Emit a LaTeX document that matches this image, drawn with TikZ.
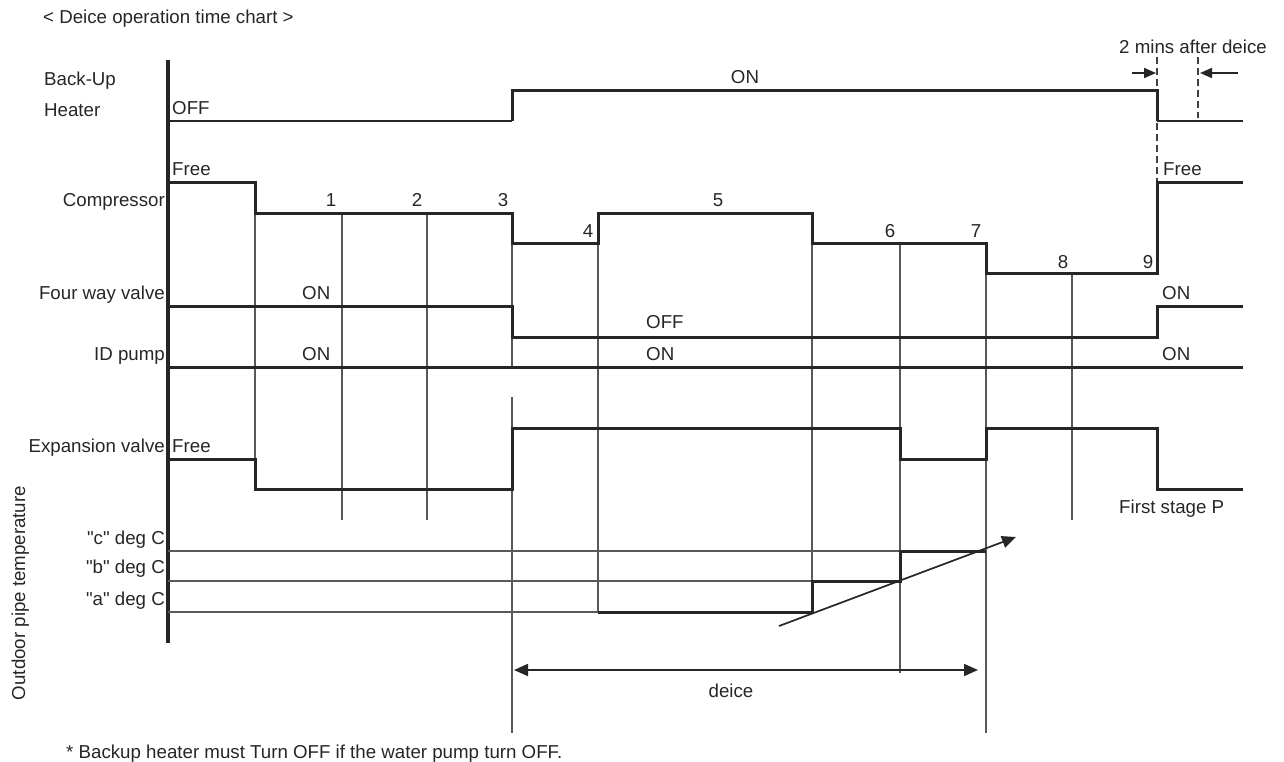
\documentclass[tikz,border=0pt]{standalone}
\usepackage{fontspec}
\setmainfont{Liberation Sans}[Ligatures=TeXOff]
\usetikzlibrary{arrows.meta}
\begin{document}
\begin{tikzpicture}[x=1pt,y=-1pt,
  lbl/.style={inner sep=0pt, font=\fontsize{18.7}{22}\selectfont, text=black!85},
  sig/.style={line width=3pt, draw=black!85, line join=miter},
  thinln/.style={line width=1.2pt, draw=black!65},
  dsh/.style={line width=1.2pt, draw=black!75, dash pattern=on 7pt off 4pt},
  dimarrow/.style={line width=1.7pt, draw=black!85, fill=black!85}
]
\useasboundingbox (0,0) rectangle (1284,762);

% axis
\coordinate (axtop) at (168,60);
\coordinate (axbot) at (168,643);
\draw[line width=3.4pt, draw=black!85] (axtop) -- (axbot);

% thin vertical guide lines
\draw[thinln] (255,213) -- (255,489);
\draw[thinln] (342,213) -- (342,520);
\draw[thinln] (427,213) -- (427,520);
\draw[thinln] (512,243) -- (512,367);
\draw[thinln] (512,397) -- (512,733);
\draw[thinln] (598,243) -- (598,612);
\draw[thinln] (812,243) -- (812,612);
\draw[thinln] (900,243) -- (900,673);
\draw[thinln] (986,273) -- (986,733);
\draw[thinln] (1072,273) -- (1072,520);

% temperature reference lines
\draw[thinln] (168,551) -- (986,551);
\draw[thinln] (168,581) -- (900,581);
\draw[thinln] (168,612) -- (812,612);

% dashed lines (2 mins after deice)
\draw[dsh] (1157,57) -- (1157,183);
\draw[dsh] (1198,57) -- (1198,118);

% signals
\draw[sig, line width=2.4pt] (168,121) -- (512,121);
\draw[sig] (512,121) -- (512,91) -- (1157,91) -- (1157,121);
\draw[sig, line width=2.4pt] (1157,121) -- (1243,121);

\draw[sig] (168,183) -- (255,183) -- (255,213) -- (512,213) -- (512,243) -- (598,243)
  -- (598,213) -- (812,213) -- (812,243) -- (986,243) -- (986,273) -- (1157,273)
  -- (1157,183) -- (1243,183);

\draw[sig] (168,306) -- (512,306) -- (512,337) -- (1157,337) -- (1157,306) -- (1243,306);

\draw[sig] (168,367) -- (1243,367);

\draw[sig] (168,459) -- (255,459) -- (255,489) -- (512,489) -- (512,428) -- (900,428)
  -- (900,459) -- (986,459) -- (986,428) -- (1157,428) -- (1157,489) -- (1243,489);

\draw[sig] (598,612) -- (812,612) -- (812,581) -- (900,581) -- (900,551) -- (986,551);

% rising temperature arrow
\coordinate (tA) at (779,626);
\coordinate (tB) at (1016,537);
\draw[dimarrow, -{Triangle[length=14pt,width=12pt]}] (tA) -- (tB);

% deice span arrow
\coordinate (dA) at (514,670);
\coordinate (dB) at (978,670);
\draw[dimarrow, {Triangle[length=14pt,width=12pt]}-{Triangle[length=14pt,width=12pt]}] (dA) -- (dB);

% 2 min arrows
\coordinate (m1a) at (1132,73);
\coordinate (m1b) at (1156,73);
\coordinate (m2a) at (1238,73);
\coordinate (m2b) at (1200,73);
\draw[dimarrow, -{Triangle[length=12pt,width=10pt]}] (m1a) -- (m1b);
\draw[dimarrow, -{Triangle[length=12pt,width=10pt]}] (m2a) -- (m2b);

% labels
\node[lbl, anchor=base west] (title) at (43,24) {< Deice operation time chart >};
\node[lbl, anchor=base west] (bu) at (44,86) {Back-Up};
\node[lbl, anchor=base west] (ht) at (44,117) {Heater};
\node[lbl, anchor=base west] (hoff) at (172,115) {OFF};
\node[lbl, anchor=base] (hon) at (745,84) {ON};
\node[lbl, anchor=base west] (twomin) at (1119,54) {2 mins after deice};

\node[lbl, anchor=base west] (cfree) at (172,176) {Free};
\node[lbl, anchor=base west] (cfree2) at (1163,176) {Free};
\node[lbl, anchor=base east] (comp) at (165,207) {Compressor};
\node[lbl, anchor=base] (n1) at (331,207) {1};
\node[lbl, anchor=base] (n2) at (417,207) {2};
\node[lbl, anchor=base] (n3) at (503,207) {3};
\node[lbl, anchor=base] (n4) at (588,237) {4};
\node[lbl, anchor=base] (n5) at (718,207) {5};
\node[lbl, anchor=base] (n6) at (890,237) {6};
\node[lbl, anchor=base] (n7) at (976,237) {7};
\node[lbl, anchor=base] (n8) at (1063,268) {8};
\node[lbl, anchor=base] (n9) at (1148,268) {9};

\node[lbl, anchor=base east] (fwv) at (165,299) {Four way valve};
\node[lbl, anchor=base west] (fon1) at (302,299) {ON};
\node[lbl, anchor=base west] (foff) at (646,328) {OFF};
\node[lbl, anchor=base west] (fon2) at (1162,299) {ON};

\node[lbl, anchor=base east] (idp) at (165,360) {ID pump};
\node[lbl, anchor=base west] (pon1) at (302,360) {ON};
\node[lbl, anchor=base west] (pon2) at (646,360) {ON};
\node[lbl, anchor=base west] (pon3) at (1162,360) {ON};

\node[lbl, anchor=base east] (ev) at (165,452) {Expansion valve};
\node[lbl, anchor=base west] (evfree) at (172,452) {Free};
\node[lbl, anchor=base west] (fsp) at (1119,513) {First stage P};

\node[lbl, anchor=base east] (tc) at (165,544) {"c" deg C};
\node[lbl, anchor=base east] (tb) at (165,573) {"b" deg C};
\node[lbl, anchor=base east] (ta) at (165,605) {"a" deg C};
\node[lbl, anchor=base, rotate=90] (opt) at (25,593) {Outdoor pipe temperature};

\node[lbl, anchor=base] (deice) at (731,697) {deice};
\node[lbl, anchor=base west] (note) at (66,758) {* Backup heater must Turn OFF if the water pump turn OFF.};
\end{tikzpicture}
\end{document}
